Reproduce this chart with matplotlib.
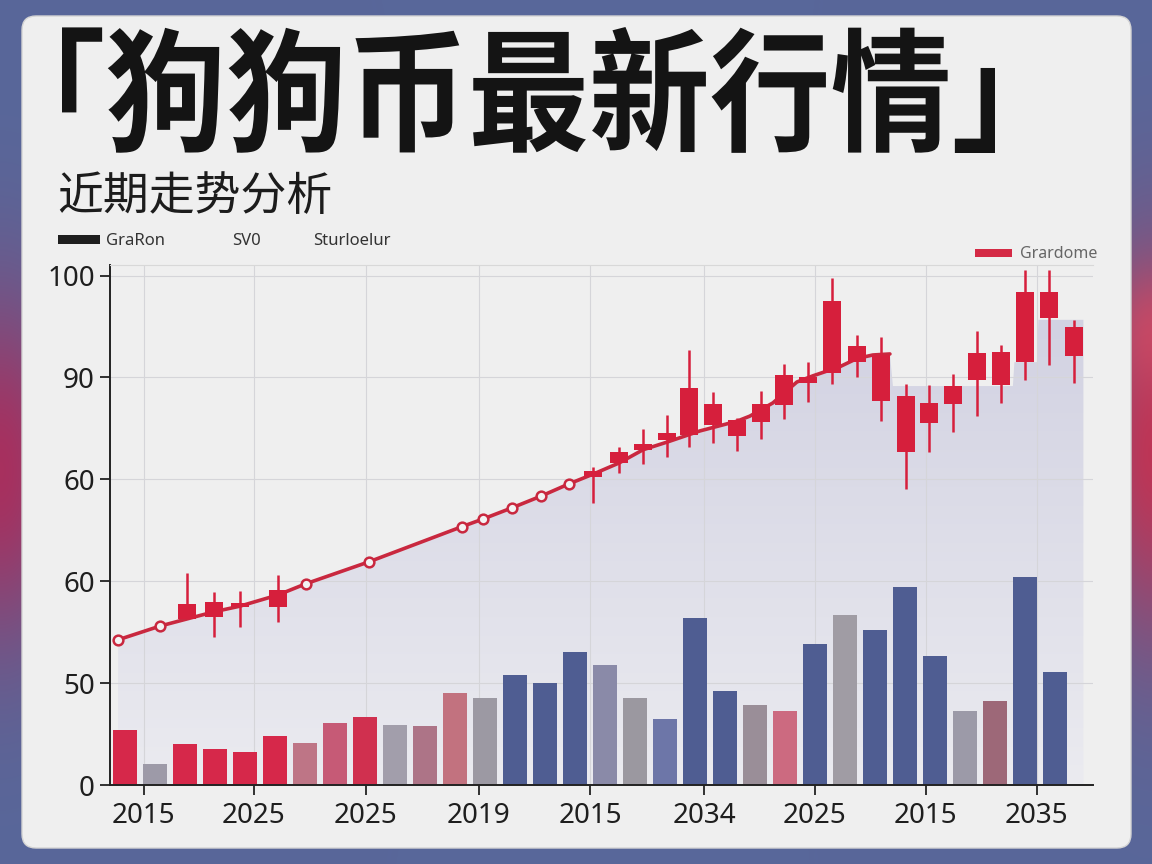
import numpy as np
import matplotlib
matplotlib.use('Agg')
import matplotlib.pyplot as plt
from matplotlib.patches import FancyBboxPatch, Rectangle, PathPatch
from matplotlib.textpath import TextPath
from matplotlib.font_manager import FontProperties
from matplotlib.transforms import Affine2D
from matplotlib.colors import LinearSegmentedColormap, to_rgb

plt.rcParams['font.family'] = ['Noto Sans', 'Noto Sans CJK SC', 'DejaVu Sans']

# 标题文字
title = '「狗狗币最新行情」'
subtitle = '近期走势分析'
legend_left = ['GraRon', 'SV0', 'Sturloelur']
legend_right = 'Grardome'

# 坐标轴刻度
x_tick_pos = [0.63, 4.3, 8.03, 11.8, 15.5, 19.3, 23.0, 26.7, 30.4]
x_labels = ['2015', '2025', '2025', '2019', '2015', '2034', '2025', '2015', '2035']
y_tick_pos = [0, 20, 40, 60, 80, 100]
y_labels = ['0', '50', '60', '60', '90', '100']

# 柱状图 (成交量)
bar_vals = [10.8, 4.1, 8.1, 7.1, 6.5, 9.6, 8.3, 12.2, 13.4, 11.8, 11.6, 18.1,
            17.1, 21.5, 20.1, 26.2, 23.6, 17.1, 13.0, 32.7, 18.5, 15.7, 14.6,
            27.6, 33.3, 30.5, 38.8, 25.4, 14.6, 16.5, 40.9, 22.2]
bar_colors = ['#d6284a', '#9d9aa8', '#d6284a', '#d6284a', '#d6284a', '#d6284a',
              '#be7586', '#c65a76', '#d0304f', '#a29eab', '#ad7487', '#c2727f',
              '#9c99a3', '#4f5d92', '#4f5d92', '#4f5d92', '#8a8aa8', '#9b98a0',
              '#6d76a8', '#4f5d92', '#4f5d92', '#9a8e98', '#cc6a80', '#4f5d92',
              '#a09ca4', '#4f5d92', '#4f5d92', '#4f5d92', '#9c9aa8', '#9d6878',
              '#4f5d92', '#4f5d92']

# 走势线
line_x = [-0.23, 1.17, 2.97, 3.83, 5.1, 6.03, 8.13, 11.23, 11.93, 12.9, 13.87,
          14.8, 15.6, 16.47, 17.27, 18.07, 19.17, 20.4, 20.83, 21.6, 22.4,
          22.93, 23.83, 24.4, 24.93, 25.5]
line_y = [28.5, 31.2, 34.0, 35.1, 37.3, 39.5, 43.8, 50.7, 52.2, 54.4, 56.7,
          59.1, 61.0, 63.2, 65.8, 67.3, 69.5, 71.4, 72.4, 75.0, 79.1,
          80.3, 82.1, 83.7, 84.4, 84.6]
dot_idx = [0, 1, 5, 6, 7, 8, 9, 10, 11]

# 阴影区域在走势线之后的台阶
step_x = [25.6, 29.6, 29.65, 30.4, 30.45, 31.95]
step_y = [78.3, 78.3, 83.0, 83.0, 91.3, 91.3]

# K线
candle_x = [2.07, 2.97, 3.83, 5.1, 15.6, 16.47, 17.27, 18.07, 18.8, 19.6, 20.4,
            21.2, 21.97, 22.77, 23.57, 24.4, 25.2, 26.03, 26.8, 27.6, 28.4,
            29.2, 30.0, 30.8, 31.63]
candle_open = [32.6, 33.0, 34.9, 34.9, 60.5, 63.2, 65.8, 67.7, 68.7, 70.7, 68.5,
               71.2, 74.6, 78.9, 80.9, 83.0, 84.4, 76.3, 75.0, 74.8, 79.5,
               78.5, 83.0, 96.8, 89.9]
candle_close = [35.5, 35.9, 35.7, 38.3, 61.6, 65.4, 66.9, 69.1, 77.9, 74.8, 71.6,
                74.8, 80.5, 80.1, 95.0, 86.2, 75.4, 65.4, 71.0, 78.3, 84.8,
                85.0, 96.8, 91.7, 84.2]
candle_high = [41.6, 37.9, 38.1, 41.2, 62.4, 66.3, 69.9, 72.6, 85.4, 77.1, 72.0,
               77.3, 82.6, 83.0, 99.5, 88.3, 87.9, 78.7, 78.5, 80.7, 89.1,
               86.4, 101.1, 101.1, 91.3]
candle_low = [32.6, 29.0, 31.0, 32.0, 55.3, 61.2, 63.0, 64.4, 66.3, 67.1, 65.6,
              67.9, 71.8, 75.2, 78.7, 80.1, 71.4, 58.1, 65.4, 69.3, 72.4,
              75.0, 79.5, 82.4, 78.9]

RED = '#d61f3c'
LINE_RED = '#c9283f'

fig = plt.figure(figsize=(11.52, 8.64), dpi=100)

# 背景 + 卡片 (像素坐标)
bg = fig.add_axes([0, 0, 1, 1])
bg.set_xlim(0, 1152)
bg.set_ylim(864, 0)
bg.axis('off')

yy, xx = np.mgrid[0:864, 0:1152]
img = np.ones((864, 1152, 3)) * np.array(to_rgb('#58679a'))
for cx, cy, sx, sy, col, k in [(0, 470, 70, 170, '#b02a58', 0.9),
                               (1152, 450, 60, 190, '#c8304f', 0.9),
                               (1152, 330, 40, 60, '#e04a60', 0.6)]:
    w = k * np.exp(-((xx - cx) / sx) ** 2 - ((yy - cy) / sy) ** 2)
    img = img * (1 - w[..., None]) + w[..., None] * np.array(to_rgb(col))
bg.imshow(img, extent=[0, 1152, 864, 0], zorder=0, aspect='auto')
bg.set_xlim(0, 1152)
bg.set_ylim(864, 0)

card = FancyBboxPatch((22, 16), 1109, 832, boxstyle='round,pad=0,rounding_size=14',
                      fc='#efefef', ec='#d4d4d4', lw=1, zorder=1)
bg.add_patch(card)

# 大标题: 用TextPath拉伸成参考图的窄高字形
fp = FontProperties(family='Noto Sans CJK SC', weight='black')
tp = TextPath((0, 0), title, size=100, prop=fp)
ext = tp.get_extents()
tr = Affine2D().translate(-ext.x0, -ext.y0).scale(933 / ext.width, -126 / ext.height).translate(62, 153)
bg.add_patch(PathPatch(tr.transform_path(tp), fc='#141414', ec='none', zorder=2))

bg.text(57, 197, subtitle, fontsize=33, va='center', ha='left', color='#1c1c1c',
        family=['Noto Sans CJK SC', 'DejaVu Sans'], zorder=2)

# 图例
bg.add_patch(Rectangle((58, 235), 42, 9, fc='#1e1e1e', zorder=2))
for xpos, lab in zip([106, 232, 313], legend_left):
    bg.text(xpos, 241, lab, fontsize=12, va='center', ha='left', color='#333333', zorder=2)
bg.add_patch(Rectangle((975, 249), 37, 8, fc='#d42a45', zorder=2))
bg.text(1020, 254, legend_right, fontsize=11.5, va='center', ha='left', color='#666666', zorder=2)

# 主图
ax = fig.add_axes([110 / 1152, 79 / 864, 983 / 1152, 102 * 5.095 / 864])
ax.patch.set_alpha(0)

area_x = np.array(line_x + step_x)
area_y = np.array(line_y + step_y)
poly = ax.fill_between(area_x, area_y, 0, color='none', lw=0)
clip = PathPatch(poly.get_paths()[0], transform=ax.transData, fc='none', ec='none')
ax.add_patch(clip)
cmap = LinearSegmentedColormap.from_list('area', ['#ebebf0', '#d2d2e2'])
grad = ax.imshow(np.linspace(0, 1, 256).reshape(-1, 1), extent=[area_x.min(), area_x.max(), 0, area_y.max()],
                 origin='lower', cmap=cmap, aspect='auto', zorder=0.3)
grad.set_clip_path(clip)

ax.bar(range(len(bar_vals)), bar_vals, width=0.8, color=bar_colors, zorder=2)

ax.plot(line_x, line_y, color=LINE_RED, lw=2.6, zorder=3, solid_capstyle='round')
ax.plot([line_x[i] for i in dot_idx], [line_y[i] for i in dot_idx], 'o', ms=7,
        mfc='#f3f3f3', mec=LINE_RED, mew=1.8, zorder=3.5)

o = np.array(candle_open)
c = np.array(candle_close)
ax.vlines(candle_x, candle_low, candle_high, color=RED, lw=1.8, zorder=4)
ax.bar(candle_x, np.abs(c - o), bottom=np.minimum(o, c), width=0.62, color=RED, zorder=5)

ax.set_xlim(-0.5, 32.27)
ax.set_ylim(0, 102)
ax.set_xticks(x_tick_pos)
ax.set_xticklabels(x_labels)
ax.set_yticks(y_tick_pos)
ax.set_yticklabels(y_labels)

ax.grid(True, color='#d5d5d9', lw=0.8)
ax.set_axisbelow(True)
for s in ['left', 'bottom']:
    ax.spines[s].set_color('#222222')
    ax.spines[s].set_linewidth(1.4)
ax.spines['right'].set_visible(False)
ax.spines['top'].set_color('#d8d8d8')
ax.spines['top'].set_linewidth(0.8)
ax.tick_params(axis='both', length=7, width=1.3, color='#222222', labelcolor='#1e1e1e')
ax.tick_params(axis='y', labelsize=20, pad=4)
ax.tick_params(axis='x', labelsize=20, pad=5)

fig.savefig('out.png', dpi=100)
